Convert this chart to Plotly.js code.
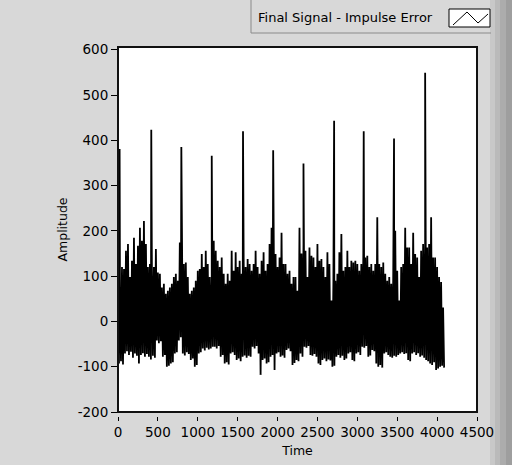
<!DOCTYPE html>
<html>
<head>
<meta charset="utf-8">
<script src="https://cdn.plot.ly/plotly-3.0.1.min.js"></script>
<style>html,body{margin:0;padding:0;background:#d8d8d8;}#chart{width:512px;height:465px;}</style>
</head>
<body>
<div id="chart"></div>
<script>
// ---- data ----
const seriesName = "Final Signal - Impulse Error";
const sampleStep = 25; // time units between successive envelope readings
// upper excursions of the noise band, one reading per step
const upperValues = [40,40,120,116,156,171,98,134,185,127,
  167,207,178,222,171,120,127,112,120,160,
  108,105,75,83,61,68,75,83,98,105,
  90,174,120,127,130,98,61,68,75,90,
  112,116,149,120,156,127,98,90,178,156,
  134,120,141,105,83,105,90,156,112,153,
  120,134,105,138,120,138,127,112,127,156,
  120,105,134,153,112,127,171,207,171,149,
  120,141,196,127,127,105,112,83,98,98,
  68,207,150,171,156,98,163,145,141,120,
  171,134,138,120,98,153,127,46,90,90,
  105,153,193,112,120,156,120,134,130,134,
  127,112,127,149,141,145,120,127,112,127,
  230,127,120,130,105,90,98,83,98,200,
  112,46,120,127,207,163,163,127,196,149,
  141,98,156,171,171,163,171,230,141,141,
  120,98,87,31];
// lower excursions of the noise band, one reading per step
const lowerValues = [-93,-88,-95,-71,-66,-74,-67,-80,-71,-76,
  -93,-74,-70,-78,-72,-78,-84,-76,-80,-42,
  -48,-44,-78,-74,-100,-98,-93,-90,-71,-68,
  -42,-35,-71,-75,-68,-72,-85,-82,-100,-96,
  -71,-68,-60,-64,-58,-62,-60,-56,-56,-60,
  -54,-78,-74,-93,-90,-95,-71,-68,-74,-85,
  -82,-88,-78,-75,-80,-76,-78,-56,-60,-54,
  -71,-118,-85,-82,-93,-90,-78,-74,-107,-71,
  -68,-78,-75,-80,-63,-60,-66,-96,-92,-85,
  -88,-71,-78,-56,-58,-54,-74,-76,-72,-78,
  -93,-96,-85,-82,-88,-84,-86,-100,-98,-78,
  -74,-80,-76,-85,-82,-71,-68,-85,-88,-71,
  -68,-74,-56,-58,-54,-78,-75,-63,-66,-93,
  -100,-96,-102,-71,-68,-74,-78,-80,-76,-78,
  -74,-71,-68,-72,-70,-85,-88,-71,-68,-74,
  -70,-78,-75,-80,-85,-88,-93,-96,-90,-107,
  -104,-100,-98,-102];
// impulses
const impulseTimes   = [20, 417, 794, 1175, 1567, 1945, 2325, 2709, 3080, 3460, 3850];
const impulseHeights = [381, 423, 385, 366, 420, 378, 349, 443, 420, 404, 549];
// axes
const xTicks = [0,500,1000,1500,2000,2500,3000,3500,4000,4500];
const yTicks = [-200,-100,0,100,200,300,400,500,600];
const xTitle = "Time";
const yTitle = "Amplitude";

// ---- build the signal ----
let pts = [];
for (let k = 0; k < upperValues.length; k++) {
  pts.push([k*sampleStep, upperValues[k]]);
  pts.push([k*sampleStep + sampleStep/2, lowerValues[k]]);
}
for (let i = 0; i < impulseTimes.length; i++) pts.push([impulseTimes[i], impulseHeights[i]]);
pts.sort((a,b)=>a[0]-b[0]);
const tx = pts.map(p=>p[0]), ty = pts.map(p=>p[1]);

// ---- layout helpers (pixel -> paper) ----
const W=512,H=465, L=118, R=35, T=47, B=49;
const pw = W-L-R, ph = H-T-B;
const px = x => (x-L)/pw;
const py = y => (H-B-y)/ph;
const fam = "DejaVu Sans, Verdana, sans-serif";
const tickFont = {family:fam, size:13.5, color:"#000"};
const titleFont = {family:fam, size:12.5, color:"#000"};

const shapes = [
  // right bevel strip
  {type:"rect",xref:"paper",yref:"paper",x0:px(490),x1:px(495),y0:py(465),y1:py(0),fillcolor:"#c8c8c8",line:{width:0},layer:"below"},
  {type:"rect",xref:"paper",yref:"paper",x0:px(495),x1:px(500),y0:py(465),y1:py(0),fillcolor:"#bababa",line:{width:0},layer:"below"},
  {type:"rect",xref:"paper",yref:"paper",x0:px(500),x1:px(506),y0:py(465),y1:py(0),fillcolor:"#acacac",line:{width:0},layer:"below"},
  {type:"rect",xref:"paper",yref:"paper",x0:px(506),x1:px(512),y0:py(465),y1:py(0),fillcolor:"#9e9e9e",line:{width:0},layer:"below"},
  // legend border
  {type:"line",xref:"paper",yref:"paper",x0:px(251),x1:px(251),y0:py(0),y1:py(33),line:{color:"#8a8a8a",width:1}},
  {type:"line",xref:"paper",yref:"paper",x0:px(251),x1:px(491),y0:py(33),y1:py(33),line:{color:"#8a8a8a",width:1}},
  // legend icon
  {type:"rect",xref:"paper",yref:"paper",x0:px(449),x1:px(490),y0:py(27),y1:py(9),fillcolor:"#ffffff",line:{color:"#000",width:1}},
  {type:"path",xref:"paper",yref:"paper",path:`M ${px(453)},${py(25)} L ${px(467)},${py(12)} L ${px(478)},${py(23)} L ${px(488)},${py(14)}`,line:{color:"#000",width:1}},
  // plot frame
  {type:"rect",xref:"x domain",yref:"y domain",x0:0,x1:1,y0:0,y1:1,line:{color:"#111",width:2}}
];

const data = [{
  x: tx, y: ty, type:"scatter", mode:"lines", name: seriesName,
  line:{color:"#000", width:1.8}, hoverinfo:"skip"
}];

const layout = {
  width:W, height:H,
  margin:{l:L, r:R, t:T, b:B, pad:0},
  paper_bgcolor:"#d8d8d8", plot_bgcolor:"#ffffff",
  showlegend:false,
  font: tickFont,
  xaxis:{range:[0,4500], tickvals:xTicks, ticktext:xTicks.map(String), ticks:"outside", ticklen:4, tickcolor:"#000",
    showline:false, showgrid:false, zeroline:false, anchor:"free", position:0, tickfont:tickFont,
    title:{text:xTitle, font:titleFont, standoff:7}},
  yaxis:{range:[-200,606], domain:[4/ph,1], tickvals:yTicks, ticktext:yTicks.map(String), ticks:"outside", ticklen:6, tickcolor:"#000",
    showline:false, showgrid:false, zeroline:false, tickfont:tickFont,
    title:{text:yTitle, font:titleFont, standoff:7}},
  shapes: shapes,
  annotations:[{text:seriesName, xref:"paper", yref:"paper", x:px(345), y:py(18), xanchor:"center", yanchor:"middle",
    showarrow:false, font:{family:fam, size:13, color:"#000"}}]
};
Plotly.newPlot("chart", data, layout, {displayModeBar:false, staticPlot:true});
</script>
</body>
</html>
